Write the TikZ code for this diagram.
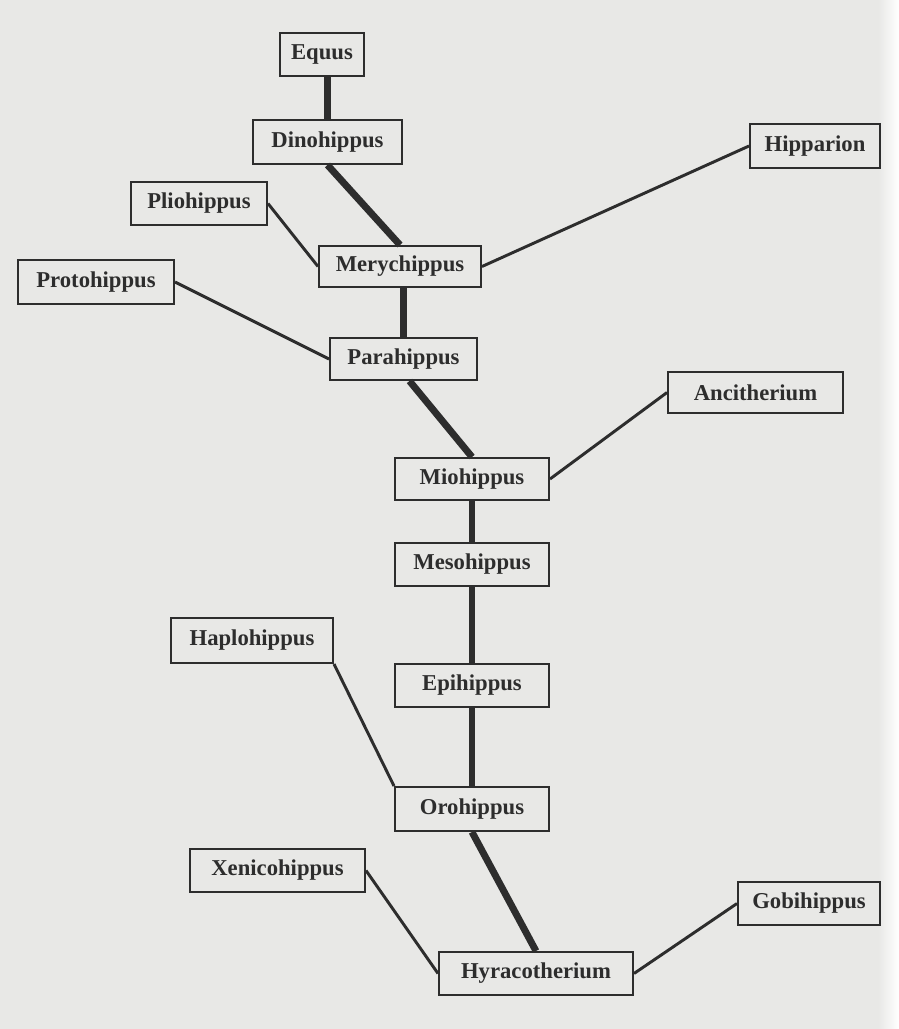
\documentclass[tikz,border=0pt]{standalone}
\usepackage{fontspec}
\setmainfont{Liberation Serif}
\definecolor{paper}{RGB}{232,232,230}
\definecolor{ink}{RGB}{45,45,45}
\tikzset{
  hb/.style 2 args={draw=ink, line width=1.5pt, fill=none, text=ink,
    minimum width=#1*0.75pt, minimum height=#2*0.75pt, inner sep=0pt,
    font=\bfseries\fontsize{17}{20}\selectfont},
  thick link/.style={draw=ink, line width=5.2pt, line cap=butt},
  thin link/.style={draw=ink, line width=2.2pt, line cap=butt}
}
\begin{document}
\begin{tikzpicture}[x=0.75pt,y=-0.75pt]
\useasboundingbox (0,0) rectangle (899,1029);
\fill[paper] (0,0) rectangle (899,1029);
\shade[left color=paper, right color=white] (878,0) rectangle (899,1029);

\node[hb={84}{43}]  (equus) at (322,54.5) {Equus};
\node[hb={149}{44}] (dino)  at (327.5,142) {Dinohippus};
\node[hb={136}{43}] (plio)  at (199,203.5) {Pliohippus};
\node[hb={162}{41}] (mery)  at (400,266.5) {Merychippus};
\node[hb={130}{44}] (hipp)  at (815,146) {Hipparion};
\node[hb={156}{44}] (proto) at (96,282) {Protohippus};
\node[hb={147}{42}] (para)  at (403.5,359) {Parahippus};
\node[hb={175}{41}] (anci)  at (755.5,392.5) {Ancitherium};
\node[hb={154}{42}] (mio)   at (472,479) {Miohippus};
\node[hb={154}{43}] (meso)  at (472,564.5) {Mesohippus};
\node[hb={162}{45}] (haplo) at (252,640.5) {Haplohippus};
\node[hb={154}{43}] (epi)   at (472,685.5) {Epihippus};
\node[hb={154}{44}] (oro)   at (472,809) {Orohippus};
\node[hb={175}{43}] (xeni)  at (277.5,870.5) {Xenicohippus};
\node[hb={194}{43}] (hyra)  at (536,973.5) {Hyracotherium};
\node[hb={142}{43}] (gobi)  at (809,903.5) {Gobihippus};

% main line
\draw[thick link] (dino.north) -- (dino.north |- equus.south);
\draw[thick link] (dino.south) -- (mery.north);
\draw[thick link] (para.north) -- (para.north |- mery.south);
\draw[thick link] ([xshift=6*0.75pt]para.south) -- (mio.north);
\draw[thick link] (mio.south) -- (meso.north);
\draw[thick link] (meso.south) -- (epi.north);
\draw[thick link] (epi.south) -- (oro.north);
\draw[thick link] (oro.south) -- (hyra.north);

% side branches
\draw[thin link] (plio.east) -- (mery.west);
\draw[thin link] (mery.east) -- (hipp.west);
\draw[thin link] (proto.east) -- (para.west);
\draw[thin link] (mio.east) -- (anci.west);
\draw[thin link] (haplo.south east) -- (oro.north west);
\draw[thin link] (xeni.east) -- (hyra.west);
\draw[thin link] (hyra.east) -- (gobi.west);
\end{tikzpicture}
\end{document}
